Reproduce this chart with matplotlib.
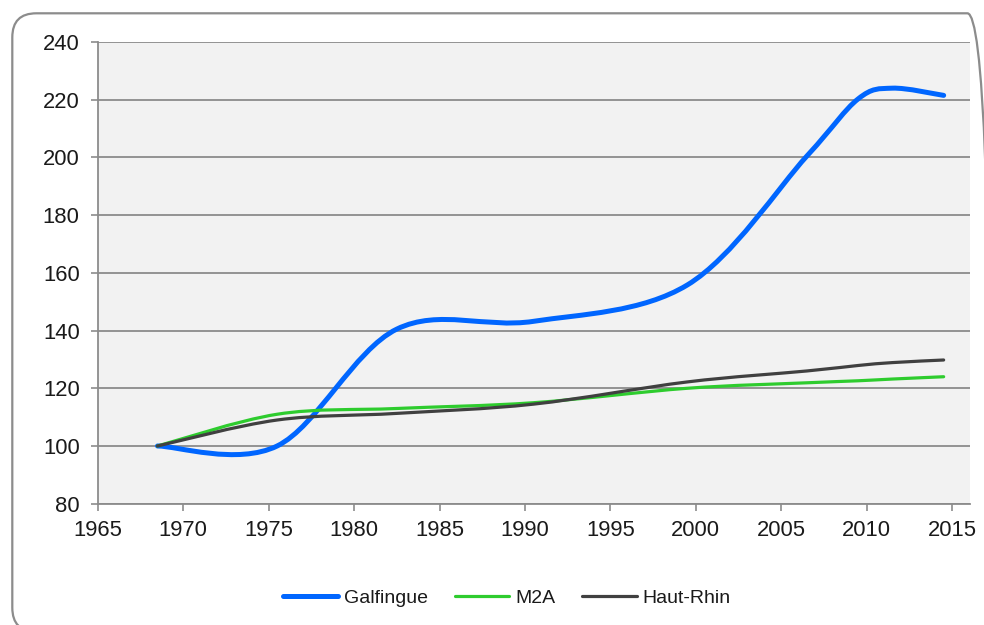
import numpy as np
import matplotlib
matplotlib.use("Agg")
import matplotlib.pyplot as plt
from matplotlib.path import Path
from matplotlib.patches import PathPatch, FancyBboxPatch
from matplotlib.lines import Line2D

# ---- data ----
years = [1968.5, 1975.5, 1982.5, 1990.5, 1999.5, 2006.5, 2009.5, 2011.5, 2014.5]
galfingue = [100, 100, 140.5, 143.2, 155.8, 200.5, 220.3, 224, 221.5]
m2a = [100, 111.0, 113.0, 115.0, 120.0, 121.9, 122.6, 123.2, 124.0]
haut_rhin = [100, 109.0, 111.3, 114.5, 122.2, 126.0, 127.9, 128.9, 129.8]

series_names = ["Galfingue", "M2A", "Haut-Rhin"]
series_values = [galfingue, m2a, haut_rhin]
series_colors = ["#0066ff", "#2ecc2e", "#404040"]
series_widths = [3.6, 2.3, 2.3]

x_ticks = list(range(1965, 2016, 5))
y_ticks = list(range(80, 241, 20))

plt.rcParams['font.family'] = ['Liberation Sans', 'DejaVu Sans']

fig = plt.figure(figsize=(9.84, 6.25), dpi=100)
fig.patch.set_facecolor("white")

# rounded outer frame (pixel coordinates)
frame = FancyBboxPatch((12.3, -6.7), 979.1, 618.4,
                       boxstyle="round,pad=0,rounding_size=24",
                       transform=None, facecolor="none",
                       edgecolor="#8c8c8c", linewidth=1.6)
fig.add_artist(frame)

ax = fig.add_axes([97.7 / 984, 121.3 / 625, (970 - 97.7) / 984, (503.7 - 42) / 625])
ax.set_facecolor("#f2f2f2")
ax.set_xlim(1965, 1965 + (970 - 97.7) / 17.09)
ax.set_ylim(80, 240)
ax.set_xticks(x_ticks)
ax.set_yticks(y_ticks)
ax.tick_params(axis="both", direction="out", length=5, width=1.2,
               color="#8c8c8c", labelsize=15.8, labelcolor="#1a1a1a")
ax.tick_params(axis="x", pad=7)
ax.tick_params(axis="y", pad=8)
for s in ["top", "right"]:
    ax.spines[s].set_visible(False)
for s in ["left", "bottom"]:
    ax.spines[s].set_color("#8c8c8c")
    ax.spines[s].set_linewidth(1.3)
ax.yaxis.grid(True, color="#8c8c8c", linewidth=1.3)
ax.set_axisbelow(True)


def smooth_path(xs, ys):
    P = np.column_stack([xs, ys]).astype(float)
    n = len(P)
    verts = [P[0]]
    codes = [Path.MOVETO]
    for i in range(n - 1):
        p0 = P[i - 1] if i > 0 else P[i]
        p1 = P[i]
        p2 = P[i + 1]
        p3 = P[i + 2] if i + 2 < n else P[i + 1]
        c1 = p1 + (p2 - p0) / 6.0
        c2 = p2 - (p3 - p1) / 6.0
        verts += [c1, c2, p2]
        codes += [Path.CURVE4, Path.CURVE4, Path.CURVE4]
    return Path(verts, codes)


handles = []
for name, vals, col, lw in zip(series_names, series_values, series_colors, series_widths):
    patch = PathPatch(smooth_path(years, vals), facecolor="none", edgecolor=col,
                      linewidth=lw, capstyle="round", joinstyle="round", zorder=3)
    ax.add_patch(patch)
    handles.append(Line2D([], [], color=col, linewidth=lw, solid_capstyle="round", label=name))

fig.legend(handles=handles, loc="center", bbox_to_anchor=(507 / 984, 1 - 598 / 625),
           ncol=3, frameon=False, fontsize=14, handlelength=2.8, handletextpad=0.3,
           columnspacing=1.4, labelcolor="#1a1a1a")

fig.savefig("out.png", dpi=100, facecolor="white")
